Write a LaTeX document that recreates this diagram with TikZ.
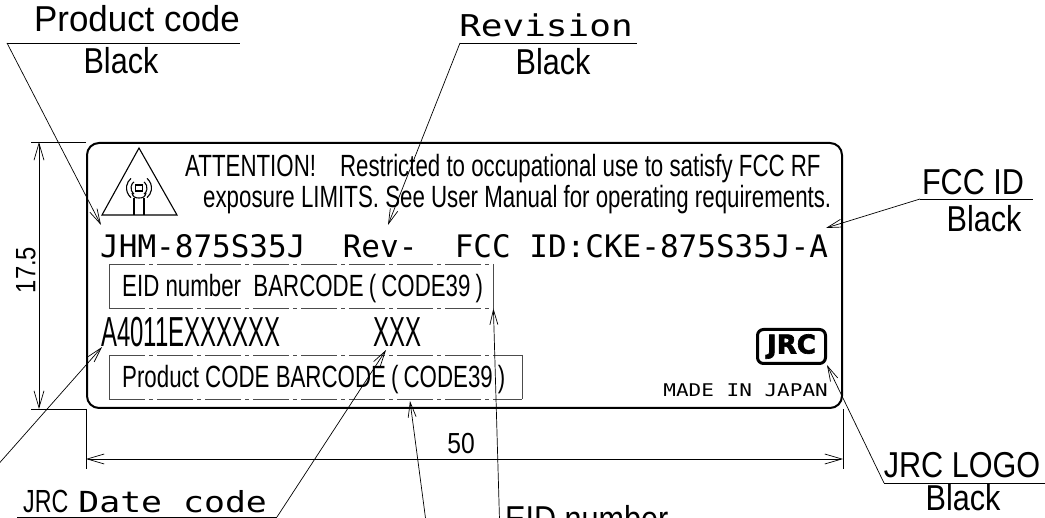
\documentclass[tikz,border=0pt]{standalone}
\usepackage{fontspec}
\usetikzlibrary{arrows.meta}
\newfontfamily\cadsans{Liberation Sans}[FakeStretch=0.726]
\newfontfamily\cadslim{Liberation Sans}[FakeStretch=0.57]
\newfontfamily\cadlabel{Liberation Sans}[FakeStretch=0.85]
\newfontfamily\cadbroad{Liberation Sans}[FakeStretch=0.97]
\newfontfamily\cadmono{DejaVu Sans Mono}
\newfontfamily\cadwide{DejaVu Sans Mono}[FakeStretch=1.2]
\newfontfamily\logofont{DejaVu Sans}[FakeBold=2.5]

\begin{document}
\begin{tikzpicture}[x=1pt,y=-1pt,
  every node/.style={inner sep=0pt},
  thinline/.style={line width=0.7pt},
  icon/.style={line width=1.1pt},
  leader/.style={line width=0.7pt,-{Straight Barb[length=15pt,width=8pt]}},
  dimline/.style={line width=0.7pt,{Straight Barb[length=17pt,width=10pt]}-{Straight Barb[length=17pt,width=10pt]}},
  callout/.style={font=\cadlabel\fontsize{36}{36}\selectfont},
  platetext/.style={anchor=base west,font=\cadsans\fontsize{30.7}{30.7}\selectfont},
  dashdot/.style={line width=0.7pt,black!70,dash pattern=on 36pt off 4pt on 4pt off 4pt},
  barbox/.style={minimum height=44pt,anchor=north west}]
  \useasboundingbox (0,0) rectangle (1045,518);

  % label plate
  \node[draw,line width=2pt,rounded corners=12pt,minimum width=755pt,minimum height=265pt] (plate) at (464.5,275.5) {};

  % warning sign
  \draw[icon] (139,148) -- (177,215) -- (102,215) -- cycle;
  \draw[icon] (135.5,185) rectangle (142.5,191);
  \foreach \r in {8,12.5} {
    \draw[icon] (139,188) ++(-50:\r) arc[start angle=-50,end angle=50,radius=\r];
    \draw[icon] (139,188) ++(130:\r) arc[start angle=130,end angle=230,radius=\r];
  }
  \draw[icon] (132,193) .. controls (133,197) and (135,198) .. (139,198) .. controls (143,198) and (145,197) .. (146,193);
  \draw[icon] (134,198) -- (134,215) (144,198) -- (144,215);

  \node[platetext] (warn1) at (185,177)
    {ATTENTION!\hspace{24pt}Restricted to occupational use to satisfy FCC RF};
  \node[platetext] (warn2) at (203,208)
    {exposure LIMITS.\ See User Manual for operating requirements.};
  \node[anchor=base west,font=\cadmono\fontsize{31}{31}\selectfont] (model) at (100,258)
    {JHM-875S35J~~Rev-~~FCC~ID:CKE-875S35J-A};

  % barcodes
  \node[barbox,minimum width=384pt] (eidbox) at (109,264) {};
  \draw[dashdot] (eidbox.north west) -- (eidbox.north east) (eidbox.south west) -- (eidbox.south east);
  \draw[thinline,black!70] (eidbox.north west) -- (eidbox.south west) (eidbox.north east) -- (eidbox.south east);
  \node[platetext] (eidtext) at (122,297) {EID number\ \ BARCODE\,(\,CODE39\,)};

  \node[anchor=base west,font=\cadslim\fontsize{42}{42}\selectfont] (eidno) at (101,347) {A4011EXXXXXX};
  \node[anchor=base west,font=\cadslim\fontsize{42}{42}\selectfont] (xxx) at (373,347) {XXX};

  \node[barbox,minimum width=413pt] (pcbox) at (109,355) {};
  \draw[dashdot] (pcbox.north west) -- (pcbox.north east) (pcbox.south west) -- (pcbox.south east);
  \draw[thinline,black!70] (pcbox.north west) -- (pcbox.south west) (pcbox.north east) -- (pcbox.south east);
  \node[platetext] (pctext) at (122,388) {Product CODE BARCODE\,(\,CODE39\,)};

  % logo
  \node[draw,line width=3pt,rounded corners=6pt,minimum width=68pt,minimum height=34pt,
        font=\logofont\bfseries\fontsize{26}{26}\selectfont] (logo) at (791.5,346.5) {JRC};
  \node[anchor=base east,font=\cadwide\fontsize{17.5}{17.5}\selectfont] (madein) at (828,397) {MADE IN JAPAN};

  % dimensions
  \coordinate (dimV) at (39,0);
  \coordinate (dimH) at (0,459);
  \draw[thinline] (plate.north west) -- ++(-55,0);
  \draw[thinline] (plate.south west) -- ++(-55,0);
  \draw[thinline] (plate.south west) -- ++(0,60);
  \draw[thinline] (plate.south east) -- ++(0,60);
  \draw[dimline] (plate.north west -| dimV) -- (plate.south west -| dimV);
  \draw[dimline] (plate.south west |- dimH) -- (plate.south east |- dimH);
  \node[rotate=90,font=\cadlabel\fontsize{28}{28}\selectfont] (height) at (26,270) {17.5};
  \node[font=\cadlabel\fontsize{29}{29}\selectfont] (width) at (461,444) {50};

  % callouts
  \node[anchor=base,font=\cadbroad\fontsize{36}{36}\selectfont] (pcode) at (137,32) {Product code};
  \node[callout,anchor=base] (pcodecol) at (121,74) {Black};
  \coordinate (pcodeL) at (7,43);
  \coordinate (pcodeR) at (240,43);
  \coordinate (pcodeT) at (101,225);
  \draw[thinline] (pcodeL) -- (pcodeR);
  \draw[leader] (pcodeL) -- (pcodeT);

  \node[anchor=base,font=\cadwide\fontsize{30}{30}\selectfont] (rev) at (546,37) {Revision};
  \node[callout,anchor=base] (revcol) at (553,75) {Black};
  \coordinate (revL) at (460,43);
  \coordinate (revR) at (637,43);
  \coordinate (revT) at (388,225);
  \draw[thinline] (revL) -- (revR);
  \draw[leader] (revL) -- (revT);

  \node[callout,anchor=base] (fcc) at (973,195) {FCC ID};
  \node[callout,anchor=base] (fcccol) at (984,232) {Black};
  \coordinate (fccL) at (920,199);
  \coordinate (fccR) at (1033,199);
  \coordinate (fccT) at (826,228);
  \draw[thinline] (fccL) -- (fccR);
  \draw[leader] (fccL) -- (fccT);

  \node[callout,anchor=base] (logocap) at (962,478) {JRC LOGO};
  \node[callout,anchor=base] (logocol) at (963,511) {Black};
  \coordinate (logoL) at (884,483);
  \coordinate (logoR) at (1045,483);
  \draw[thinline] (logoL) -- (logoR);
  \draw[leader] (logoL) -- (logo.south east);

  \node[anchor=base west] (datecap) at (23,513)
    {{\cadsans\fontsize{32}{32}\selectfont JRC}\hspace{10pt}{\cadwide\fontsize{29}{29}\selectfont Date code}};
  \coordinate (dateL) at (17,517);
  \coordinate (dateR) at (277,517);
  \coordinate (dateT) at (386,350);
  \draw[thinline] (dateL) -- (dateR);
  \draw[leader] (dateR) -- (dateT);

  \node[callout,anchor=base west] (eidcap) at (505,532) {EID number};
  \coordinate (eidL) at (500,537);
  \draw[leader] (eidL) -- (eidbox.south east);

  \coordinate (pcbarL) at (428,537);
  \coordinate (pcbarT) at (410,401);
  \draw[leader] (pcbarL) -- (pcbarT);

  \coordinate (eidnoL) at (-20,485);
  \coordinate (eidnoT) at (102,347);
  \draw[leader] (eidnoL) -- (eidnoT);
\end{tikzpicture}
\end{document}
